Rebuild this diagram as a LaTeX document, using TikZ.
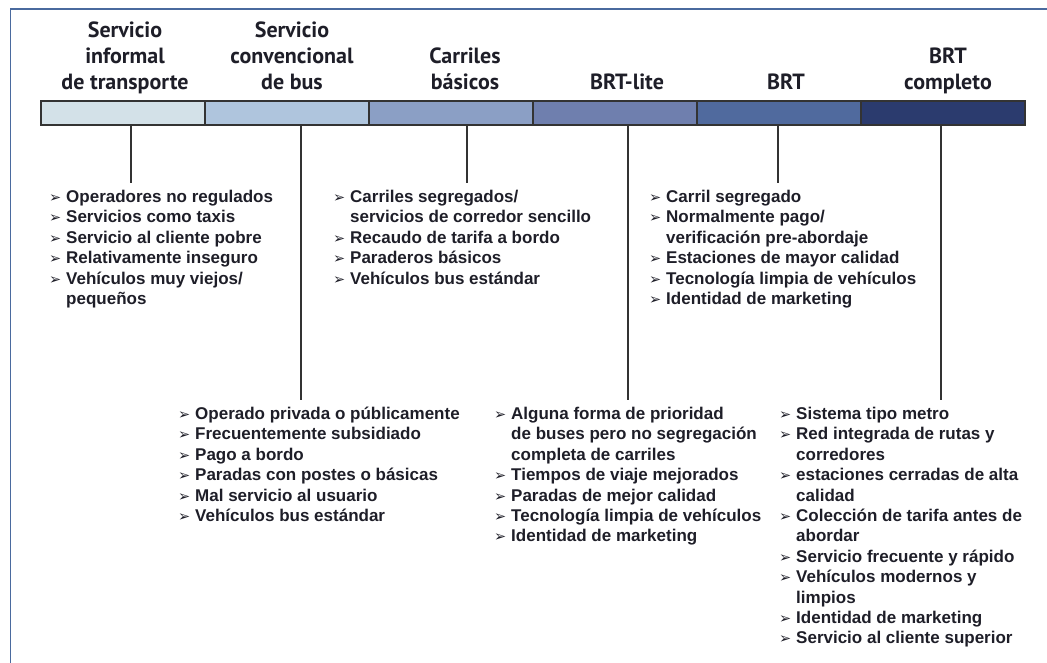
\documentclass[tikz,border=0pt]{standalone}
\usepackage{fontspec}
\setmainfont{Liberation Sans}
\newfontfamily\hdfont{PT Sans}[BoldFont={PT Sans Bold}]
\newfontfamily\symfont{DejaVu Sans}
\definecolor{framecol}{HTML}{4A6A9E}
\definecolor{txt}{HTML}{1E1E28}
\definecolor{cA}{HTML}{D3E1E8}
\definecolor{cB}{HTML}{AFC5DD}
\definecolor{cC}{HTML}{8B9FC5}
\definecolor{cD}{HTML}{6F7FAE}
\definecolor{cE}{HTML}{506A9E}
\definecolor{cF}{HTML}{2B3B6E}
\newcommand\bl{\makebox[17pt][l]{\symfont\fontsize{14.5}{14.5}\selectfont ➢}}
\tikzset{
  seg/.style={draw=black!80, line width=1.3pt, minimum width=164pt, minimum height=24pt, inner sep=0pt},
  hd/.style={anchor=south, inner sep=0pt, align=center, text=txt,
    font=\hdfont\bfseries\fontsize{22}{26}\selectfont},
  lst/.style={anchor=north west, inner sep=5pt, text=txt,
    font=\fontsize{17}{20.4}\selectfont\bfseries},
  conn/.style={draw=black!80, line width=1.4pt},
}
\begin{document}
\begin{tikzpicture}[x=1pt,y=-1pt]
\useasboundingbox (0,0) rectangle (1047,663);
\draw[framecol, line width=1.6pt] (1047,9) -- (10.5,9) -- (10.5,663);

% bar segments
\node[seg, fill=cA] (s1) at (123,113) {};
\node[seg, fill=cB] (s2) at (287,113) {};
\node[seg, fill=cC] (s3) at (451,113) {};
\node[seg, fill=cD] (s4) at (615,113) {};
\node[seg, fill=cE] (s5) at (779,113) {};
\node[seg, fill=cF] (s6) at (943,113) {};

% headers
\node[hd] (h1) at (125,98) {Servicio\\informal\\de transporte\strut};
\node[hd] (h2) at (292,98) {Servicio\\convencional\\de bus\strut};
\node[hd] (h3) at (465,98) {Carriles\\básicos\strut};
\node[hd] (h4) at (627,98) {BRT-lite\strut};
\node[hd] (h5) at (786,98) {BRT\strut};
\node[hd] (h6) at (948,98) {BRT\\completo\strut};

% lists
\node[lst] (l1) at (44,183) {\begin{tabular}{@{}l@{}l@{}}
\bl & Operadores no regulados\\
\bl & Servicios como taxis\\
\bl & Servicio al cliente pobre\\
\bl & Relativamente inseguro\\
\bl & Vehículos muy viejos/\\
 & pequeños
\end{tabular}};
\node[lst] (l3) at (328,183) {\begin{tabular}{@{}l@{}l@{}}
\bl & Carriles segregados/\\
 & servicios de corredor sencillo\\
\bl & Recaudo de tarifa a bordo\\
\bl & Paraderos básicos\\
\bl & Vehículos bus estándar
\end{tabular}};
\node[lst] (l5) at (644,183) {\begin{tabular}{@{}l@{}l@{}}
\bl & Carril segregado\\
\bl & Normalmente pago/\\
 & verificación pre-abordaje\\
\bl & Estaciones de mayor calidad\\
\bl & Tecnología limpia de vehículos\\
\bl & Identidad de marketing
\end{tabular}};
\node[lst] (l2) at (173,400) {\begin{tabular}{@{}l@{}l@{}}
\bl & Operado privada o públicamente\\
\bl & Frecuentemente subsidiado\\
\bl & Pago a bordo\\
\bl & Paradas con postes o básicas\\
\bl & Mal servicio al usuario\\
\bl & Vehículos bus estándar
\end{tabular}};
\node[lst] (l4) at (489,400) {\begin{tabular}{@{}l@{}l@{}}
\bl & Alguna forma de prioridad\\
 & de buses pero no segregación\\
 & completa de carriles\\
\bl & Tiempos de viaje mejorados\\
\bl & Paradas de mejor calidad\\
\bl & Tecnología limpia de vehículos\\
\bl & Identidad de marketing
\end{tabular}};
\node[lst] (l6) at (774,400) {\begin{tabular}{@{}l@{}l@{}}
\bl & Sistema tipo metro\\
\bl & Red integrada de rutas y\\
 & corredores\\
\bl & estaciones cerradas de alta\\
 & calidad\\
\bl & Colección de tarifa antes de\\
 & abordar\\
\bl & Servicio frecuente y rápido\\
\bl & Vehículos modernos y\\
 & limpios\\
\bl & Identidad de marketing\\
\bl & Servicio al cliente superior
\end{tabular}};

% connectors
\draw[conn] ([xshift=8pt]s1.south) -- ([xshift=8pt]s1.south |- l1.north);
\draw[conn] ([xshift=14pt]s2.south) -- ([xshift=14pt]s2.south |- l2.north);
\draw[conn] ([xshift=16pt]s3.south) -- ([xshift=16pt]s3.south |- l3.north);
\draw[conn] ([xshift=13pt]s4.south) -- ([xshift=13pt]s4.south |- l4.north);
\draw[conn] ([xshift=-1pt]s5.south) -- ([xshift=-1pt]s5.south |- l5.north);
\draw[conn] ([xshift=-2pt]s6.south) -- ([xshift=-2pt]s6.south |- l6.north);
\end{tikzpicture}
\end{document}
